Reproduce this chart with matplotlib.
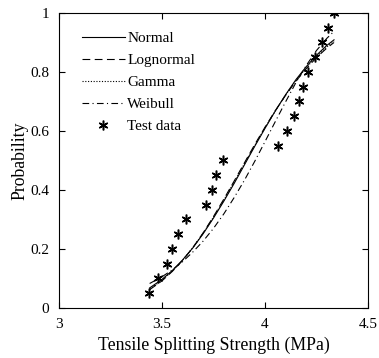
import matplotlib
matplotlib.use("Agg")
import matplotlib.pyplot as plt

# test data (strength, MPa) and cumulative probability
test_x = [3.437, 3.482, 3.524, 3.547, 3.576, 3.618, 3.715, 3.743, 3.764, 3.798,
          4.065, 4.107, 4.142, 4.167, 4.184, 4.210, 4.243, 4.277, 4.304, 4.335]
test_p = [0.05, 0.10, 0.15, 0.20, 0.25, 0.30, 0.35, 0.40, 0.45, 0.50,
          0.55, 0.60, 0.65, 0.70, 0.75, 0.80, 0.85, 0.90, 0.95, 1.00]

# fitted CDF curves
curve_x = [3.44, 3.50, 3.55, 3.60, 3.65, 3.70, 3.75, 3.80, 3.85, 3.90,
           3.95, 4.00, 4.05, 4.10, 4.15, 4.20, 4.25, 4.30, 4.335]
normal = [0.068, 0.097, 0.127, 0.163, 0.204, 0.252, 0.305, 0.362, 0.422, 0.485,
          0.548, 0.609, 0.668, 0.723, 0.774, 0.818, 0.857, 0.890, 0.909]
lognormal = [0.062, 0.092, 0.124, 0.161, 0.205, 0.255, 0.310, 0.369, 0.430, 0.492,
             0.554, 0.613, 0.669, 0.721, 0.769, 0.811, 0.849, 0.881, 0.900]
gamma = [0.064, 0.094, 0.125, 0.162, 0.205, 0.254, 0.308, 0.366, 0.427, 0.489,
         0.551, 0.611, 0.668, 0.722, 0.771, 0.814, 0.853, 0.885, 0.904]
weibull = [0.083, 0.106, 0.129, 0.157, 0.190, 0.227, 0.270, 0.319, 0.374, 0.433,
           0.497, 0.564, 0.632, 0.699, 0.764, 0.822, 0.873, 0.914, 0.938]

xticks = [3, 3.5, 4, 4.5]
xtick_labels = ["3", "3.5", "4", "4.5"]
yticks = [0, 0.2, 0.4, 0.6, 0.8, 1]
ytick_labels = ["0", "0.2", "0.4", "0.6", "0.8", "1"]

plt.rcParams['font.family'] = ['Liberation Serif', 'DejaVu Serif']

fig = plt.figure(figsize=(3.79, 3.58), dpi=100)
ax = fig.add_axes([0.1557, 0.1397, 0.8153, 0.824])

lw = 0.8
ax.plot(curve_x, normal, color='black', lw=lw, ls='-', label='Normal')
ax.plot(curve_x, lognormal, color='black', lw=lw, ls=(0, (7, 4)), label='Lognormal')
ax.plot(curve_x, gamma, color='black', lw=lw, ls=(0, (1, 1.5)), label='Gamma')
ax.plot(curve_x, weibull, color='black', lw=lw, ls=(0, (6, 3, 1, 3)), label='Weibull')
ax.plot(test_x, test_p, ls='none', marker=(6, 2, 0), color='black', ms=7,
        markeredgewidth=1.1, label='Test data')

ax.set_xlim(3, 4.5)
ax.set_ylim(0, 1)
ax.set_xticks(xticks)
ax.set_xticklabels(xtick_labels)
ax.set_yticks(yticks)
ax.set_yticklabels(ytick_labels)
ax.tick_params(direction='in', top=True, right=True, labelsize=11, length=4,
               width=0.8, pad=7)
for s in ax.spines.values():
    s.set_linewidth(0.8)

ax.set_xlabel('Tensile Splitting Strength (MPa)', fontsize=12.8, labelpad=4)
ax.set_ylabel('Probability', fontsize=12.8, labelpad=1)

ax.legend(loc='upper left', frameon=False, fontsize=11, handlelength=2.8,
          handletextpad=0.15, labelspacing=0.55, borderaxespad=0.5,
          bbox_to_anchor=(0.03, 0.985))

fig.savefig('out.png', dpi=100)
